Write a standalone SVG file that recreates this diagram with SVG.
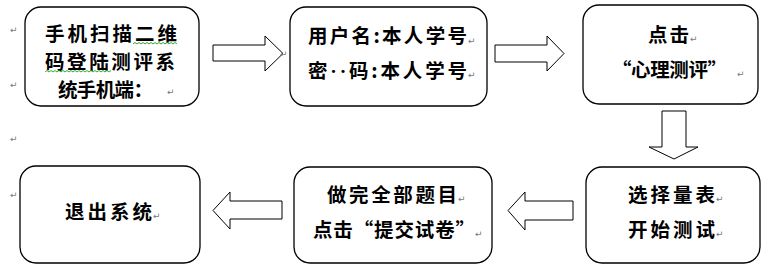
<svg xmlns="http://www.w3.org/2000/svg" width="773" height="273" viewBox="0 0 773 273">
<style>
.box{fill:#fff;stroke:#000;stroke-width:1.3}
.arr{fill:#fff;stroke:#000;stroke-width:1}
.t{font-family:"Noto Sans CJK SC","Liberation Serif",serif;font-weight:700;font-size:19.5px;fill:#000}
.pm{font-family:"DejaVu Sans",sans-serif;font-size:9px;fill:#777}
.wave{fill:none;stroke:#3a3;stroke-width:1}
.dot{font-family:"Liberation Serif",serif}
</style>
<rect width="773" height="273" fill="#fff"/>
<g id="connectors">
<polygon class="arr" points="213,45 265,45 265,36 283,53.5 265,71 265,61 213,61"/>
<polygon class="arr" points="495,45 547,45 547,36 564,53.5 547,71 547,62 495,62"/>
<polygon class="arr" points="662,111 686,111 686,147 698,147 674,159 649,147 662,147"/>
<polygon class="arr" points="573,201 525,201 525,192 508,210.5 525,230 525,220 573,220"/>
<polygon class="arr" points="282,201 230,201 230,192 213,210.5 230,229 230,219 282,219"/>
</g>
<g id="n1">
<rect class="box" x="25" y="7" width="174" height="99" rx="16"/>
<text class="t" x="45" y="41" textLength="132" lengthAdjust="spacing">手机扫描二维</text>
<text class="t" x="45" y="69" textLength="130" lengthAdjust="spacing">码登陆测评系</text>
<text class="t" x="58" y="97" textLength="95" lengthAdjust="spacing">统手机端：</text>
<path class="wave" d="M133,44 l2,-1.5 l2,1.5 l2,-1.5 l2,1.5 l2,-1.5 l2,1.5 l2,-1.5 l2,1.5 l2,-1.5 l2,1.5 l2,-1.5 l2,1.5 l2,-1.5 l2,1.5 l2,-1.5 l2,1.5 l2,-1.5 l2,1.5 l2,-1.5 l2,1.5 l2,-1.5 l2,1.5"/>
<path class="wave" d="M45,72 l2,-1.5 l2,1.5 l2,-1.5 l2,1.5 l2,-1.5 l2,1.5 l2,-1.5 l2,1.5 l2,-1.5 l2,1.5 l2,-1.5 l2,1.5 l2,-1.5 l2,1.5 l2,-1.5 l2,1.5 l2,-1.5 l2,1.5 l2,-1.5 l2,1.5 l2,-1.5 l2,1.5 l2,-1.5 l2,1.5 l2,-1.5 l2,1.5 l2,-1.5 l2,1.5 l2,-1.5 l2,1.5 l2,-1.5 l2,1.5 l2,-1.5"/>
<text class="pm" x="167" y="95">↵</text>
</g>
<g id="n2">
<rect class="box" x="290" y="7" width="197" height="99" rx="16"/>
<text class="t" x="308" y="43" textLength="159" lengthAdjust="spacing">用户名:本人学号</text>
<text class="t" x="308" y="78" textLength="159" lengthAdjust="spacing">密<tspan class="dot">··</tspan>码:本人学号</text>
<text class="pm" x="468" y="44">↵</text>
<text class="pm" x="468" y="78">↵</text>
</g>
<g id="n3">
<rect class="box" x="583" y="5" width="175" height="99" rx="16"/>
<text class="t" x="648" y="42" textLength="41" lengthAdjust="spacing">点击</text>
<text class="t" x="612" y="77" textLength="115" lengthAdjust="spacing">“心理测评”</text>
<text class="pm" x="690" y="42">↵</text>
<text class="pm" x="737" y="77">↵</text>
</g>
<g id="n4">
<rect class="box" x="20" y="166" width="180" height="97" rx="16"/>
<text class="t" x="65" y="219" textLength="87" lengthAdjust="spacing">退出系统</text>
<text class="pm" x="153" y="219">↵</text>
</g>
<g id="n5">
<rect class="box" x="294" y="167" width="198" height="96" rx="16"/>
<text class="t" x="327" y="202" textLength="130" lengthAdjust="spacing">做完全部题目</text>
<text class="t" x="313" y="237" textLength="162" lengthAdjust="spacing">点击“提交试卷”</text>
<text class="pm" x="458" y="202">↵</text>
<text class="pm" x="475" y="237">↵</text>
</g>
<g id="n6">
<rect class="box" x="586" y="167" width="174" height="96" rx="16"/>
<text class="t" x="628" y="202" textLength="87" lengthAdjust="spacing">选择量表</text>
<text class="t" x="628" y="237" textLength="87" lengthAdjust="spacing">开始测试</text>
<text class="pm" x="716" y="202">↵</text>
<text class="pm" x="716" y="237">↵</text>
</g>
<g id="marks">
<text class="pm" x="10" y="33">↵</text>
<text class="pm" x="10" y="88">↵</text>
<text class="pm" x="10" y="142">↵</text>
<text class="pm" x="10" y="198">↵</text>
<text class="pm" x="280" y="57">↵</text>
</g>
</svg>
